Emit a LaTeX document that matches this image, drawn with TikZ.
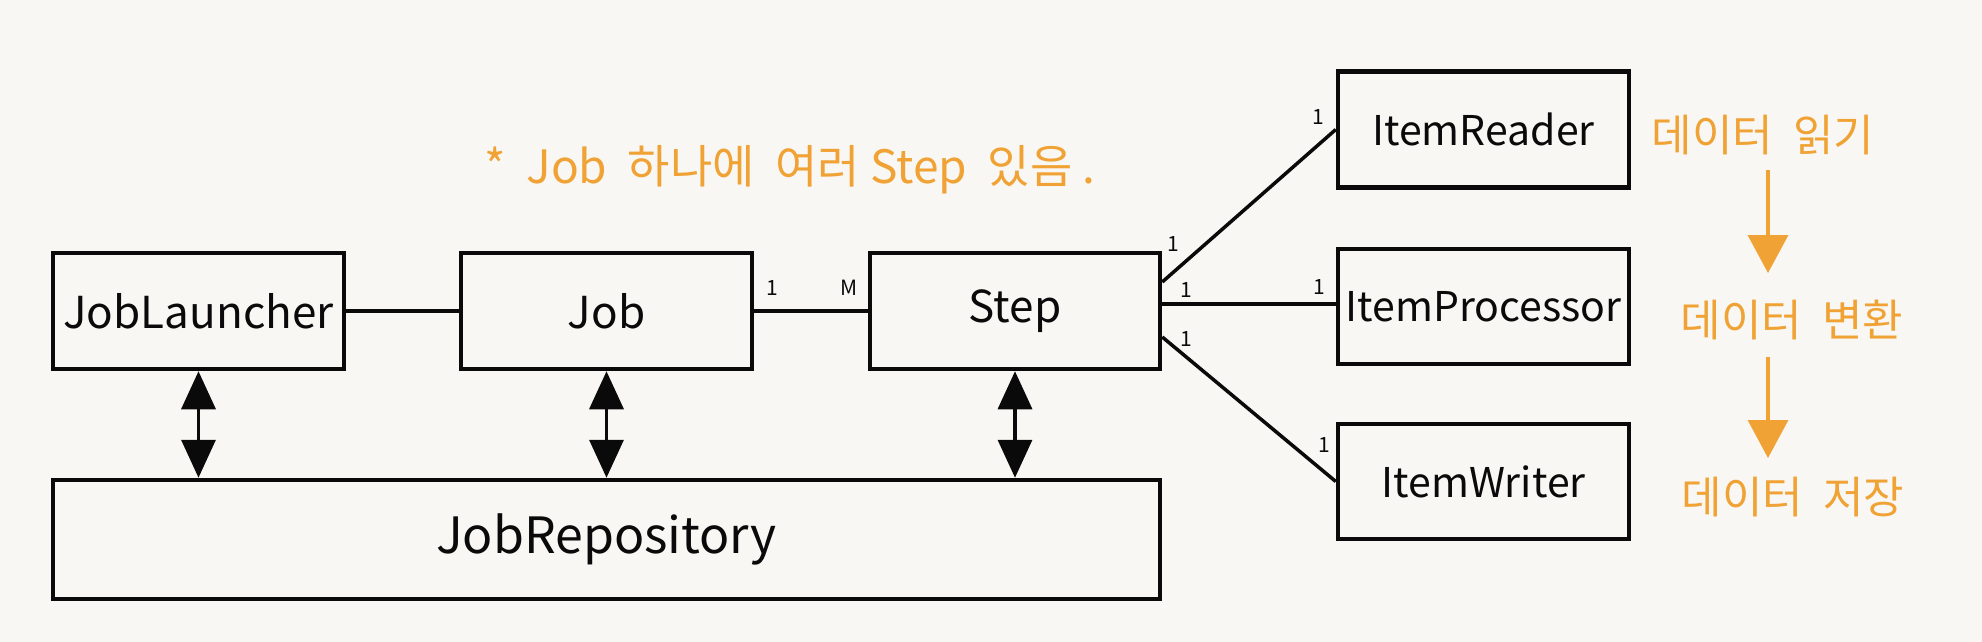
\documentclass[tikz,border=0pt]{standalone}
\usepackage{fontspec}
\setmainfont{Noto Sans CJK KR}
\usetikzlibrary{arrows.meta}
\definecolor{paper}{RGB}{248,247,244}
\definecolor{ink}{RGB}{10,10,10}
\definecolor{ora}{RGB}{240,162,52}
\begin{document}
\begin{tikzpicture}[x=1pt,y=-1pt,
  box/.style={draw=ink,line width=4.5pt,minimum width=291pt,minimum height=116pt,inner sep=0pt,text=ink,font=\fontsize{44}{48}\selectfont},
  itembox/.style={box,font=\fontsize{41}{45}\selectfont},
  conn/.style={draw=ink,line width=3.5pt},
  dbl/.style={draw=ink,fill=ink,line width=3.5pt,{Triangle[length=38pt,width=34pt]}-{Triangle[length=38pt,width=34pt]}},
  mult/.style={font=\fontsize{21}{23}\selectfont,text=ink,inner sep=0pt},
  note/.style={text=ora,font=\fontsize{44}{48}\selectfont,inner sep=0pt},
  oarrow/.style={draw=ora,fill=ora,line width=3.5pt,-{Triangle[length=38pt,width=40pt]}}]
\fill[paper] (0,0) rectangle (1982,642);
\useasboundingbox (0,0) rectangle (1982,642);

\node[box] (jl) at (198.5,311) {JobLauncher};
\node[box] (job) at (606.5,311) {Job};
\node[box,minimum width=290pt] (step) at (1015,311) {Step};
\node[box,minimum width=1107pt,minimum height=119pt,font=\fontsize{50}{54}\selectfont] (repo) at (606.5,539.5) {JobRepository};
\node[itembox] (reader) at (1483.5,129.5) {ItemReader};
\node[itembox,minimum height=115pt] (proc) at (1483.5,306.5) {ItemProcessor};
\node[itembox,minimum height=115pt] (writer) at (1483.5,481.5) {ItemWriter};

\draw[conn] (jl) -- (job);
\draw[conn] (job) -- (step);
\draw[conn] ([yshift=29pt]step.east) -- (reader.west);
\draw[conn] ([yshift=7pt]step.east) -- ([yshift=2.5pt]proc.west);
\draw[conn] ([yshift=-26pt]step.east) -- (writer.west);
\draw[dbl] (jl.south) -- (jl.south |- repo.north);
\draw[dbl] (job.south) -- (job.south |- repo.north);
\draw[dbl] (step.south) -- (step.south |- repo.north);

\node[mult] (m1) at (772,288) {1};
\node[mult] (mM) at (849,288) {M};
\node[mult] (r1) at (1318,117) {1};
\node[mult] (s1) at (1173,244) {1};
\node[mult] (p1) at (1319,287) {1};
\node[mult] (s2) at (1186,290) {1};
\node[mult] (s3) at (1186,339) {1};
\node[mult] (w1) at (1324,445) {1};

\node[note,font=\fontsize{46}{50}\selectfont] (title) at (790,170) {*\ \ Job\ \ 하나에\ \ 여러\ Step\ \ 있음\ .};
\node[note] (t1) at (1763,135) {데이터\ \ 읽기};
\node[note] (t2) at (1792,320) {데이터\ \ 변환};
\node[note] (t3) at (1793,497) {데이터\ \ 저장};
\coordinate (a1s) at (1768,170);
\coordinate (a1e) at (1768,273);
\coordinate (a2s) at (1768,357);
\coordinate (a2e) at (1768,458);
\draw[oarrow] (a1s) -- (a1e);
\draw[oarrow] (a2s) -- (a2e);
\end{tikzpicture}
\end{document}
